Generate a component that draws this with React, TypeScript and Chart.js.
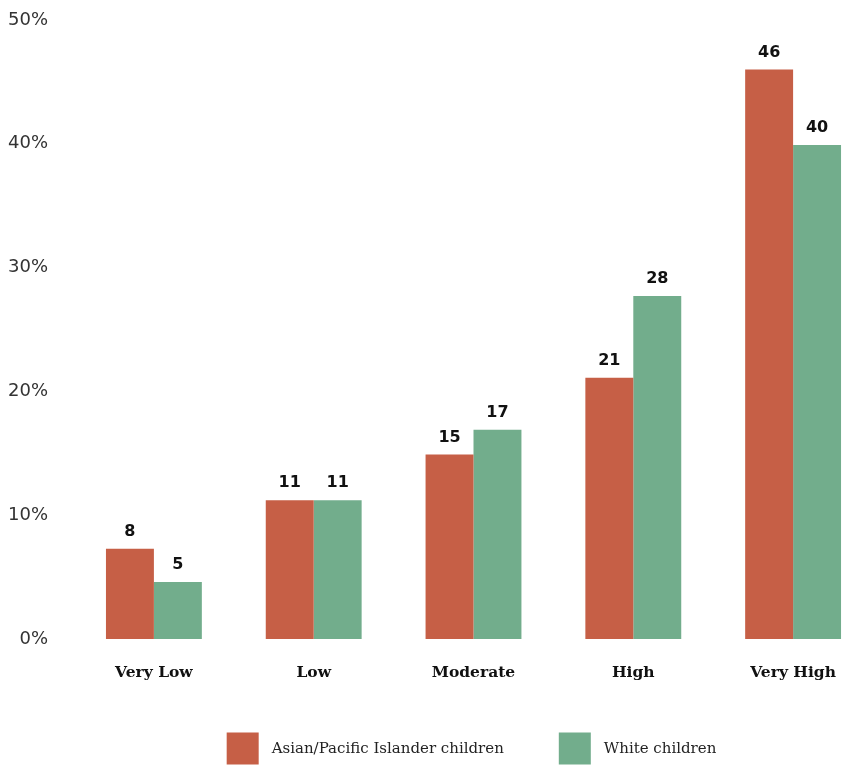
import React, { useEffect, useRef } from "react";
import { Chart, registerables } from "chart.js";

Chart.register(...registerables);

const categories = ["Very Low", "Low", "Moderate", "High", "Very High"];
const seriesNames = ["Asian/Pacific Islander children", "White children"];
const asianValues = [7.3, 11.2, 14.9, 21.1, 46.0];
const whiteValues = [4.6, 11.2, 16.9, 27.7, 39.9];
const asianLabels = ["8", "11", "15", "21", "46"];
const whiteLabels = ["5", "11", "17", "28", "40"];
const yTicks = [0, 10, 20, 30, 40, 50];
const colors = ["#C65F46", "#72AD8C"];

const valueLabelPlugin = {
  id: "valueLabels",
  afterDatasetsDraw(chart: any) {
    const ctx = chart.ctx;
    ctx.save();
    ctx.font = "bold 16px 'DejaVu Sans'";
    ctx.fillStyle = "#111";
    ctx.textAlign = "center";
    ctx.textBaseline = "alphabetic";
    chart.data.datasets.forEach((ds: any, i: number) => {
      const meta = chart.getDatasetMeta(i);
      meta.data.forEach((bar: any, j: number) => {
        ctx.fillText(ds.valueLabels[j], bar.x, bar.y - 13);
      });
    });
    ctx.restore();
  },
};

const legendPlugin = {
  id: "customLegend",
  afterDraw(chart: any) {
    const ctx = chart.ctx;
    ctx.save();
    ctx.font = "15px 'DejaVu Serif'";
    const box = 32;
    const gap = 13;
    const itemGap = 55;
    const widths = chart.data.datasets.map((d: any) => ctx.measureText(d.label).width);
    const total = widths.reduce((a: number, w: number) => a + box + gap + w, 0) + itemGap * (widths.length - 1);
    let x = 471.5 - total / 2;
    const cy = 748.5;
    chart.data.datasets.forEach((d: any, i: number) => {
      ctx.fillStyle = d.backgroundColor;
      ctx.fillRect(x, cy - box / 2, box, box);
      ctx.fillStyle = "#222";
      ctx.textAlign = "left";
      ctx.textBaseline = "middle";
      ctx.fillText(d.label, x + box + gap, cy + 1);
      x += box + gap + widths[i] + itemGap;
    });
    ctx.restore();
  },
};

export default function App() {
  const ref = useRef<HTMLCanvasElement>(null);
  useEffect(() => {
    document.body.style.margin = "0";
    const chart = new Chart(ref.current as HTMLCanvasElement, {
      type: "bar",
      data: {
        labels: categories,
        datasets: [
          { label: seriesNames[0], data: asianValues, backgroundColor: colors[0], valueLabels: asianLabels } as any,
          { label: seriesNames[1], data: whiteValues, backgroundColor: colors[1], valueLabels: whiteLabels } as any,
        ],
      },
      options: {
        responsive: false,
        animation: false,
        layout: { padding: { top: 20, bottom: 57, left: 0, right: 0 } },
        datasets: { bar: { categoryPercentage: 0.6, barPercentage: 1.0 } },
        plugins: { legend: { display: false }, tooltip: { enabled: false } },
        scales: {
          x: {
            grid: { display: false, drawTicks: false },
            border: { display: false },
            ticks: {
              padding: 25,
              color: "#111",
              font: { family: "'DejaVu Serif'", size: 15.5, weight: "bold" },
            },
            afterFit(scale: any) {
              scale.height = 70;
            },
          },
          y: {
            min: yTicks[0],
            max: yTicks[yTicks.length - 1],
            grid: { display: false, drawTicks: false },
            border: { display: false },
            afterBuildTicks(scale: any) {
              scale.ticks = yTicks.map((v) => ({ value: v }));
            },
            ticks: {
              padding: 26,
              color: "#333",
              font: { family: "'DejaVu Sans'", size: 18 },
              callback: (v: any) => v + "%",
            },
            afterFit(scale: any) {
              scale.width = 74;
              scale.paddingTop = 0;
              scale.paddingBottom = 0;
            },
          },
        },
      },
      plugins: [valueLabelPlugin, legendPlugin],
    });
    return () => chart.destroy();
  }, []);
  return (
    <div style={{ position: "absolute", left: 0, top: 0, width: 843, height: 766, overflow: "hidden", background: "#fff" }}>
      <canvas ref={ref} width={873} height={766} />
    </div>
  );
}
